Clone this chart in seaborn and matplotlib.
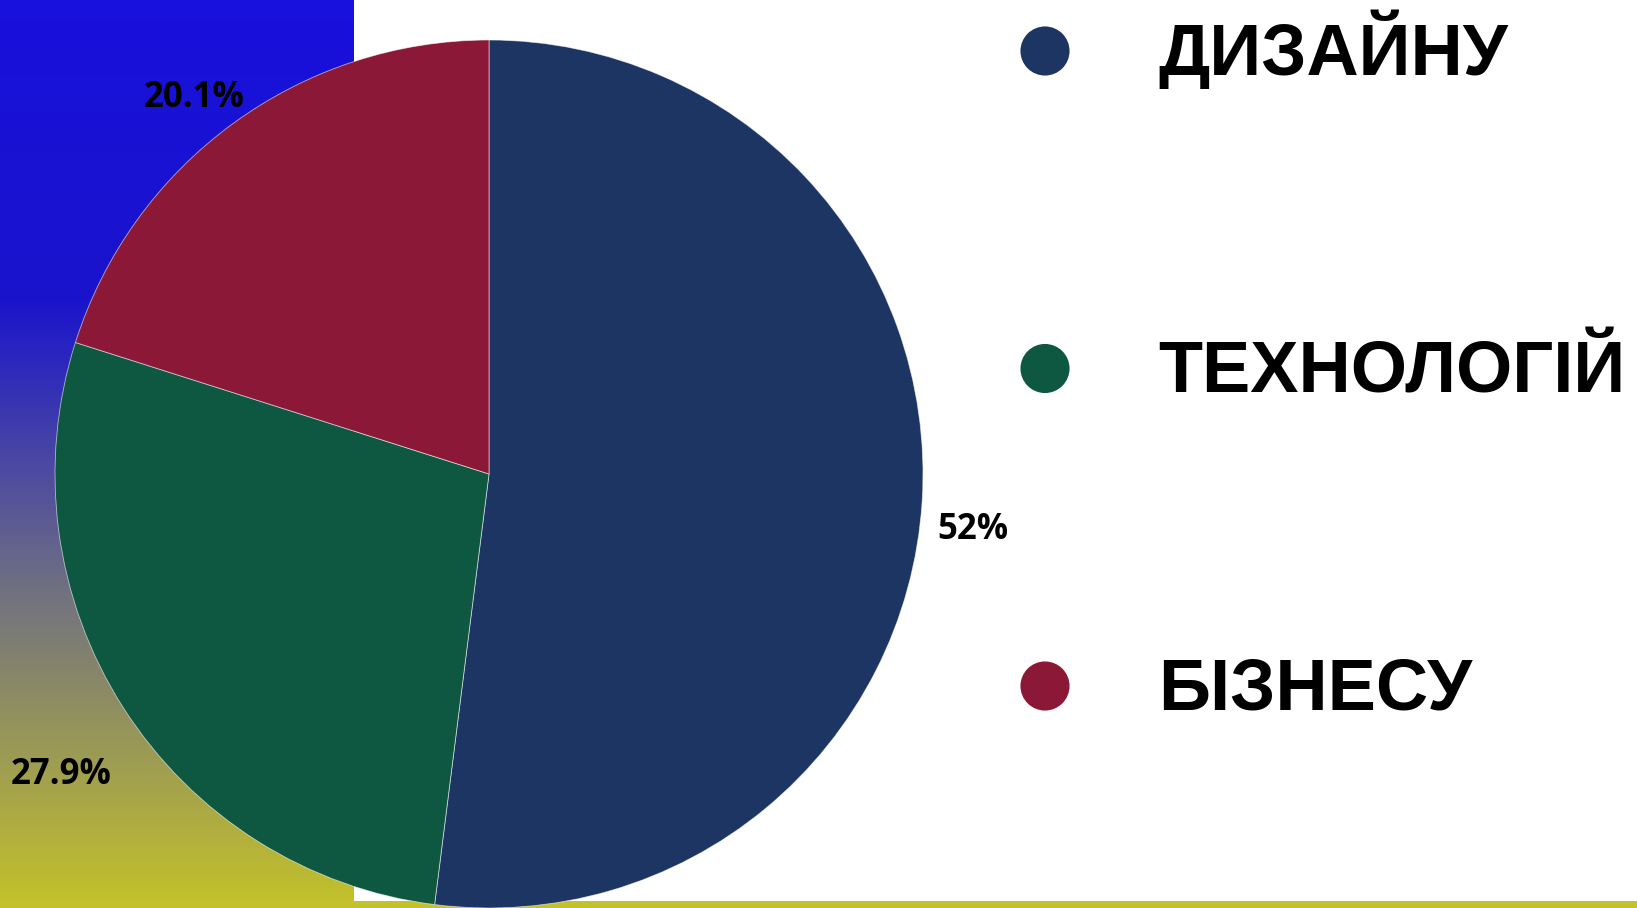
import numpy as np
import matplotlib
matplotlib.use("Agg")
import matplotlib.pyplot as plt
from matplotlib.colors import LinearSegmentedColormap
import seaborn as sns

# data
categories = ["ДИЗАЙНУ", "ТЕХНОЛОГІЙ", "БІЗНЕСУ"]
shares = [52, 27.9, 20.1]
colors = ["#1d3563", "#0e5842", "#8c1838"]

sns.set_theme(style="white")
plt.rcParams["font.family"] = ["Liberation Sans", "DejaVu Sans"]

W, H = 1637, 908
fig = plt.figure(figsize=(W / 100, H / 100), dpi=100)
fig.patch.set_facecolor("white")

# background: gradient strip on the left + yellow line at the bottom
bg = fig.add_axes([0, 0, 1, 1], zorder=0)
bg.axis("off")
grad = LinearSegmentedColormap.from_list(
    "ua", [(0, "#1810dc"), (0.33, "#1a14cc"), (0.64, "#6e6e84"), (1, "#c4c22a")])
bg.imshow(np.linspace(0, 1, 256).reshape(-1, 1), cmap=grad, aspect="auto",
          extent=[0, 354, H, 0])
bg.axhspan(901, H, color="#c4c22a", lw=0)
bg.set_xlim(0, W)
bg.set_ylim(H, 0)

# pie
cx, cy, r = 489, 474, 434
ax = fig.add_axes([(cx - r) / W, (H - cy - r) / H, 2 * r / W, 2 * r / H], zorder=2)
ax.patch.set_alpha(0)
wedges, _, autotexts = ax.pie(
    shares, colors=colors, startangle=90, counterclock=False,
    autopct=lambda p: f"{p:.3g}%", pctdistance=1.12,
    wedgeprops=dict(linewidth=0.6, edgecolor=(1, 1, 1, 0.6)),
    textprops=dict(family=["Open Sans", "DejaVu Sans"], fontweight="bold",
                   fontsize=25, color="black"))
ax.set_xlim(-1, 1)
ax.set_ylim(-1, 1)
ax.set_aspect("auto")

# percent labels sit a little off the wedge middles
label_r = [1.12, 1.2, 1.11]
label_shift = [-2.4, 2.1, 1.6]
for w, t, lr, sh in zip(wedges, autotexts, label_r, label_shift):
    ang = np.deg2rad((w.theta1 + w.theta2) / 2 + sh)
    t.set_position((lr * np.cos(ang), lr * np.sin(ang) - 0.011))
    t.set_ha("center")
    t.set_va("center")

# legend drawn on the right
lg = fig.add_axes([0, 0, 1, 1], zorder=3)
lg.patch.set_alpha(0)
ys = [51 + i * 317.5 for i in range(len(categories))]
sns.scatterplot(x=[1045] * len(categories), y=ys, hue=categories,
                palette=colors, s=1250, linewidth=0, legend=False, ax=lg)
for y, name in zip(ys, categories):
    lg.text(1158, y + 24, name, fontsize=52, fontweight="bold",
            color="black", ha="left", va="baseline")
lg.set_xlim(0, W)
lg.set_ylim(H, 0)
lg.axis("off")

fig.savefig("out.png", dpi=100)
